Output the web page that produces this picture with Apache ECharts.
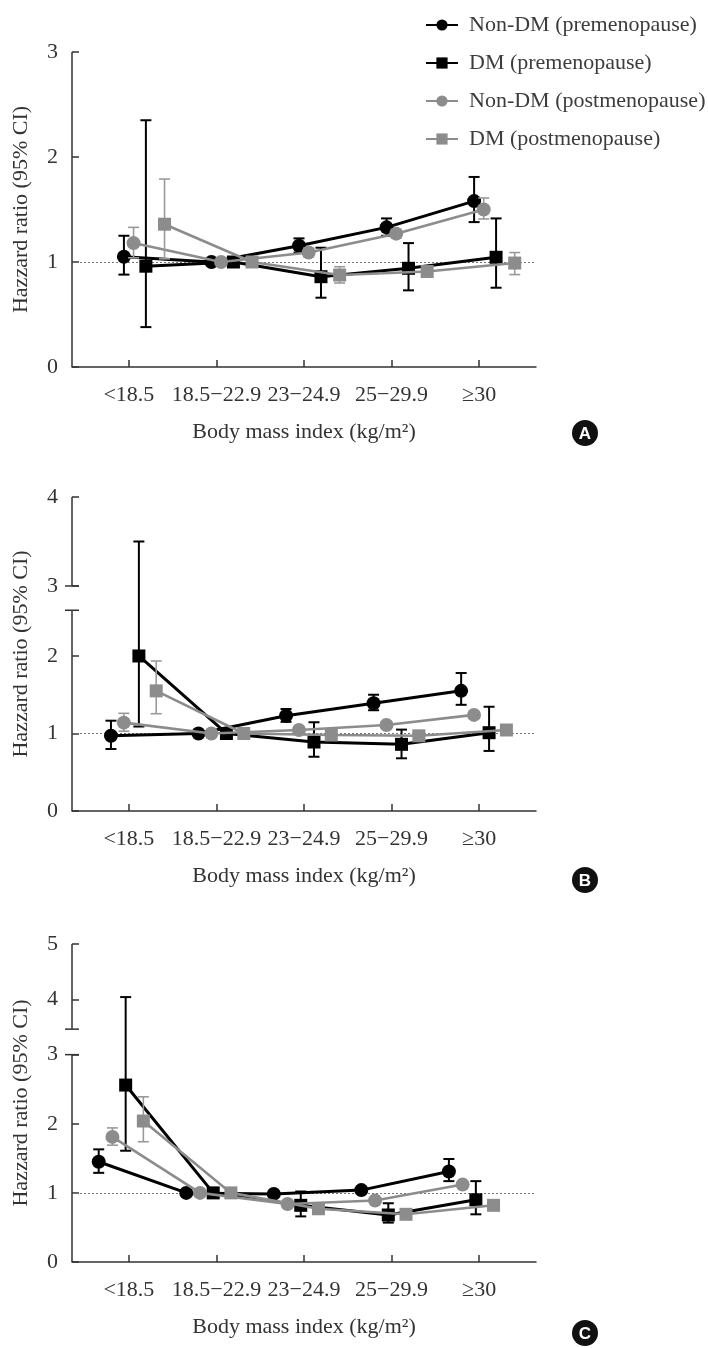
<!DOCTYPE html>
<html><head><meta charset="utf-8">
<script src="https://cdn.jsdelivr.net/npm/echarts@6/dist/echarts.min.js"></script>
<style>html,body{margin:0;padding:0;background:#fff}#c{width:708px;height:1348px}</style>
</head><body><div id="c"></div>
<script>
// ---------- DATA ----------
const categories = ['<18.5', '18.5\u221222.9', '23\u221224.9', '25\u221229.9', '\u226530'];
const seriesNames = ['Non-DM (premenopause)', 'DM (premenopause)', 'Non-DM (postmenopause)', 'DM (postmenopause)'];
const yTicksA = [0, 1, 2, 3];
const yTicksB = [0, 1, 2, 3, 4];
const yTicksC = [0, 1, 2, 3, 4, 5];

// Panel A: hazard ratio and 95% CI
const A_nonDMPre      = [1.05, 1, 1.155, 1.33, 1.58];
const A_nonDMPreLow   = [0.88, null, 1.09, 1.25, 1.38];
const A_nonDMPreHigh  = [1.25, null, 1.225, 1.415, 1.81];
const A_DMPre         = [0.96, 1, 0.86, 0.94, 1.045];
const A_DMPreLow      = [0.38, null, 0.66, 0.73, 0.755];
const A_DMPreHigh     = [2.35, null, 1.136, 1.18, 1.415];
const A_nonDMPost     = [1.18, 1, 1.09, 1.27, 1.50];
const A_nonDMPostLow  = [1.04, null, 1.05, 1.23, 1.41];
const A_nonDMPostHigh = [1.33, null, 1.13, 1.31, 1.61];
const A_DMPost        = [1.36, 1, 0.876, 0.91, 0.99];
const A_DMPostLow     = [1.03, null, 0.80, 0.86, 0.88];
const A_DMPostHigh    = [1.79, null, 0.955, 0.96, 1.09];

// Panel B
const B_nonDMPre      = [0.97, 1, 1.23, 1.39, 1.55];
const B_nonDMPreLow   = [0.80, null, 1.15, 1.30, 1.37];
const B_nonDMPreHigh  = [1.165, null, 1.316, 1.50, 1.78];
const B_DMPre         = [2.00, 1, 0.89, 0.86, 1.01];
const B_DMPreLow      = [1.09, null, 0.70, 0.68, 0.775];
const B_DMPreHigh     = [3.5, null, 1.145, 1.05, 1.345];
const B_nonDMPost     = [1.14, 1, 1.045, 1.11, 1.24];
const B_nonDMPostLow  = [1.03, null, 1.01, 1.07, 1.20];
const B_nonDMPostHigh = [1.26, null, 1.08, 1.15, 1.28];
const B_DMPost        = [1.55, 1, 0.98, 0.97, 1.045];
const B_DMPostLow     = [1.255, null, 0.94, 0.93, 1.0];
const B_DMPostHigh    = [1.935, null, 1.02, 1.01, 1.09];

// Panel C
const C_nonDMPre      = [1.45, 1, 0.985, 1.04, 1.31];
const C_nonDMPreLow   = [1.29, null, 0.96, 1.01, 1.17];
const C_nonDMPreHigh  = [1.63, null, 1.01, 1.07, 1.49];
const C_DMPre         = [2.56, 1, 0.82, 0.68, 0.90];
const C_DMPreLow      = [1.61, null, 0.66, 0.57, 0.69];
const C_DMPreHigh     = [4.04, null, 1.02, 0.85, 1.17];
const C_nonDMPost     = [1.81, 1, 0.84, 0.89, 1.12];
const C_nonDMPostLow  = [1.69, null, 0.80, 0.86, 1.09];
const C_nonDMPostHigh = [1.94, null, 0.88, 0.92, 1.15];
const C_DMPost        = [2.04, 1, 0.77, 0.69, 0.82];
const C_DMPostLow     = [1.74, null, 0.74, 0.66, 0.79];
const C_DMPostHigh    = [2.39, null, 0.80, 0.72, 0.85];

// ---------- LAYOUT / STYLE ----------
const FONT = 'Liberation Serif';
const TXT = '#333';
const XMIN = -0.65, XMAX = 4.65;
const panels = [
  { label: 'A', top: 52, bottom: 367, ticks: yTicksA, yTop: 3, brk: null,
    segs: [[0, 3, 0, 0]], dodge: [-0.057, 0.194, 0.053, 0.407], badgeY: 433,
    hr: [A_nonDMPre, A_DMPre, A_nonDMPost, A_DMPost],
    lo: [A_nonDMPreLow, A_DMPreLow, A_nonDMPostLow, A_DMPostLow],
    hi: [A_nonDMPreHigh, A_DMPreHigh, A_nonDMPostHigh, A_DMPostHigh] },
  { label: 'B', top: 497, bottom: 811, ticks: yTicksB, yTop: 4, brk: { lo: 2.59, hi: 3, fhi: 2.903, k: 1.148 },
    segs: [[0, 2.59, 0, 1], [3, 4, 1, 0]], dodge: [-0.205, 0.114, -0.058, 0.312], badgeY: 880,
    hr: [B_nonDMPre, B_DMPre, B_nonDMPost, B_DMPost],
    lo: [B_nonDMPreLow, B_DMPreLow, B_nonDMPostLow, B_DMPostLow],
    hi: [B_nonDMPreHigh, B_DMPreHigh, B_nonDMPostHigh, B_DMPostHigh] },
  { label: 'C', top: 944, bottom: 1262, ticks: yTicksC, yTop: 5, brk: { lo: 3, hi: 3.46, fhi: 3.369, k: 0.80 },
    segs: [[0, 3, 0, 1], [3.46, 5, 1, 0]], dodge: [-0.345, -0.037, -0.188, 0.165], badgeY: 1333,
    hr: [C_nonDMPre, C_DMPre, C_nonDMPost, C_DMPost],
    lo: [C_nonDMPreLow, C_DMPreLow, C_nonDMPostLow, C_DMPostLow],
    hi: [C_nonDMPreHigh, C_DMPreHigh, C_nonDMPostHigh, C_DMPostHigh] }
];
const styles = [
  { color: '#000', symbol: 'circle', size: 14, lw: 3, eb: '#000', ebw: 2 },
  { color: '#000', symbol: 'rect', size: 13, lw: 3, eb: '#000', ebw: 2 },
  { color: '#8c8c8c', symbol: 'circle', size: 14, lw: 2.6, eb: '#9a9a9a', ebw: 1.6 },
  { color: '#8c8c8c', symbol: 'rect', size: 13, lw: 2.6, eb: '#9a9a9a', ebw: 1.6 }
];

function makeF(brk) {
  return function (v) {
    if (!brk || v <= brk.lo) return v;
    return brk.fhi + (v - brk.hi) * brk.k;
  };
}

const grids = [], xAxes = [], yAxes = [], series = [], graphics = [];
panels.forEach(function (p, i) {
  const f = makeF(p.brk);
  grids.push({ left: 72, width: 464, top: p.top, height: p.bottom - p.top });
  xAxes.push({
    gridIndex: i, type: 'value', min: XMIN, max: XMAX,
    axisLine: { onZero: false, lineStyle: { color: TXT, width: 1.5 } },
    axisTick: { customValues: [0, 1, 2, 3, 4], inside: true, length: 7, lineStyle: { color: TXT, width: 1.5 } },
    axisLabel: { customValues: [0, 1, 2, 3, 4], formatter: function (v) { return categories[Math.round(v)]; },
      margin: 17, fontFamily: FONT, fontSize: 22, color: TXT },
    splitLine: { show: false },
    name: 'Body mass index (kg/m\u00b2)', nameLocation: 'middle', nameGap: 54,
    nameTextStyle: { fontFamily: FONT, fontSize: 22, color: TXT }
  });
  const tickF = p.ticks.map(f);
  yAxes.push({
    gridIndex: i, type: 'value', min: 0, max: f(p.yTop),
    axisLine: { show: false, onZero: false },
    axisTick: { customValues: tickF, inside: true, length: 7, lineStyle: { color: TXT, width: 1.5 } },
    axisLabel: { customValues: tickF, margin: 14, fontFamily: FONT, fontSize: 22, color: TXT,
      formatter: function (v) {
        for (let t = 0; t < p.ticks.length; t++) if (Math.abs(tickF[t] - v) < 1e-6) return String(p.ticks[t]);
        return '';
      } },
    splitLine: { show: false },
    name: 'Hazzard ratio (95% CI)', nameLocation: 'middle', nameGap: 40,
    nameTextStyle: { fontFamily: FONT, fontSize: 22, color: TXT }
  });
  // y-axis line segments (with break caps)
  series.push({
    type: 'custom', xAxisIndex: i, yAxisIndex: i, silent: true, clip: false, z: 3,
    data: p.segs.map(function (s) { return [f(s[0]), f(s[1]), s[2], s[3]]; }),
    renderItem: function (params, api) {
      const a = api.coord([XMIN, api.value(0)]), b = api.coord([XMIN, api.value(1)]);
      const st = { stroke: TXT, lineWidth: 1.5 };
      const ch = [{ type: 'line', shape: { x1: a[0], y1: a[1], x2: b[0], y2: b[1] }, style: st }];
      if (api.value(2)) ch.push({ type: 'line', shape: { x1: a[0] - 7, y1: a[1], x2: a[0] + 7, y2: a[1] }, style: st });
      if (api.value(3)) ch.push({ type: 'line', shape: { x1: b[0] - 7, y1: b[1], x2: b[0] + 7, y2: b[1] }, style: st });
      return { type: 'group', children: ch };
    }
  });
  // series
  p.hr.forEach(function (vals, s) {
    const st = styles[s];
    const ebData = [];
    vals.forEach(function (v, c) {
      if (p.lo[s][c] != null) ebData.push([c + p.dodge[s], f(p.lo[s][c]), f(p.hi[s][c])]);
    });
    series.push({
      type: 'custom', xAxisIndex: i, yAxisIndex: i, silent: true, clip: false, z: 4 + s,
      data: ebData,
      renderItem: function (params, api) {
        const a = api.coord([api.value(0), api.value(1)]), b = api.coord([api.value(0), api.value(2)]);
        const ls = { stroke: st.eb, lineWidth: st.ebw };
        return { type: 'group', children: [
          { type: 'line', shape: { x1: a[0], y1: a[1], x2: b[0], y2: b[1] }, style: ls },
          { type: 'line', shape: { x1: a[0] - 5.5, y1: a[1], x2: a[0] + 5.5, y2: a[1] }, style: ls },
          { type: 'line', shape: { x1: b[0] - 5.5, y1: b[1], x2: b[0] + 5.5, y2: b[1] }, style: ls }
        ] };
      }
    });
    const line = {
      type: 'line', name: seriesNames[s], xAxisIndex: i, yAxisIndex: i, z: 4 + s,
      data: vals.map(function (v, c) { return [c + p.dodge[s], f(v)]; }),
      symbol: st.symbol, symbolSize: st.size, showSymbol: true,
      lineStyle: { color: st.color, width: st.lw },
      itemStyle: { color: st.color },
      emphasis: { disabled: true }
    };
    if (s === 0) {
      line.markLine = { silent: true, symbol: ['none', 'none'], label: { show: false },
        lineStyle: { color: '#777', width: 1, type: [2, 2] }, data: [{ yAxis: f(1) }], z: 1 };
    }
    series.push(line);
  });
  graphics.push({ type: 'circle', shape: { cx: 585, cy: p.badgeY, r: 13 }, style: { fill: '#111' } });
  graphics.push({ type: 'text', x: 585, y: p.badgeY + 1,
    style: { text: p.label, fill: '#fff', font: 'bold 17px "Liberation Sans"', align: 'center', verticalAlign: 'middle',
      textAlign: 'center', textVerticalAlign: 'middle' } });
});

const chart = echarts.init(document.getElementById('c'), null, { renderer: 'canvas' });
chart.setOption({
  animation: false,
  backgroundColor: '#fff',
  legend: {
    data: seriesNames, orient: 'vertical', left: 420, top: 9,
    itemWidth: 32, itemHeight: 14, itemGap: 16,
    textStyle: { fontFamily: FONT, fontSize: 22, color: '#3c3c3c', lineHeight: 22, padding: [0, 0, 0, 6] }
  },
  grid: grids, xAxis: xAxes, yAxis: yAxes, series: series, graphic: graphics
});
</script></body></html>
